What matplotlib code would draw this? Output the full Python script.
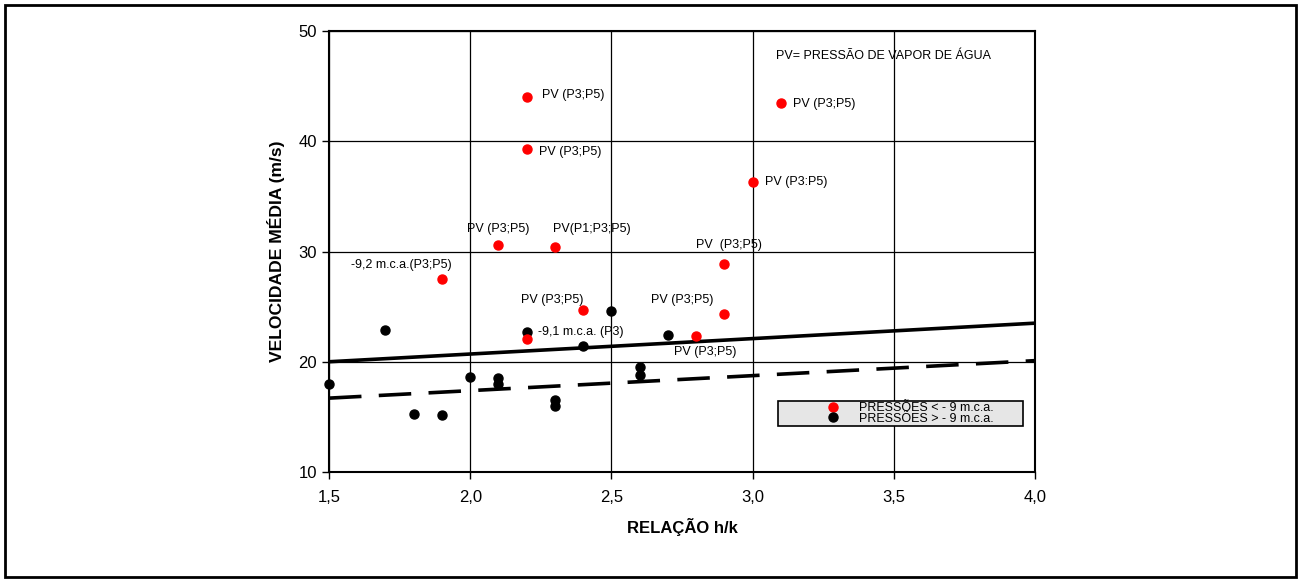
import matplotlib
matplotlib.use('Agg')
import matplotlib.pyplot as plt
from matplotlib.patches import Rectangle
from matplotlib.lines import Line2D
from matplotlib.ticker import FuncFormatter

plt.rcParams['font.family'] = ['Liberation Sans', 'DejaVu Sans']

# pontos com pressoes < -9 m.c.a. (vermelho)
red_x = [2.2, 2.2, 3.1, 3.0, 2.1, 2.3, 2.9, 1.9, 2.4, 2.9, 2.8, 2.2]
red_y = [44.0, 39.3, 43.5, 36.3, 30.6, 30.4, 28.9, 27.5, 24.7, 24.3, 22.3, 22.1]
red_labels = ['PV (P3;P5)', 'PV (P3;P5)', 'PV (P3;P5)', 'PV (P3:P5)',
              'PV (P3;P5)', 'PV(P1;P3;P5)', 'PV  (P3;P5)', '-9,2 m.c.a.(P3;P5)',
              'PV (P3;P5)', 'PV (P3;P5)', 'PV (P3;P5)', None]

# pontos com pressoes > -9 m.c.a. (preto)
black_x = [1.7, 2.2, 2.5, 2.4, 2.7, 2.6, 2.6, 1.5, 2.0, 2.1, 2.1, 1.8, 1.9, 2.3, 2.3]
black_y = [22.9, 22.7, 24.6, 21.4, 22.4, 19.5, 18.8, 18.0, 18.6, 18.5, 18.0,
           15.3, 15.2, 16.5, 16.0]
black_labels = [None, '-9,1 m.c.a. (P3)'] + [None] * 13

# retas limite
line_x = [1.5, 4.0]
solid_y = [20.0, 23.5]
dashed_y = [16.7, 20.1]

x_ticks = [1.5, 2.0, 2.5, 3.0, 3.5, 4.0]
y_ticks = [10, 20, 30, 40, 50]

# offsets dos rotulos (pixels) e alinhamento
red_offsets = [(15, 2, 'left'), (12, -3, 'left'), (12, -1, 'left'), (12, 0, 'left'),
               (0, 16, 'center'), (37, 18, 'center'), (5, 19, 'center'),
               (-41, 14, 'center'), (-31, 10, 'center'), (-42, 14, 'center'),
               (9, -16, 'center'), None]
black_offsets = [None, (11, 0, 'left')] + [None] * 13


def comma(v, pos):
    return f'{v:.1f}'.replace('.', ',')


fig = plt.figure(figsize=(13.01, 5.82), dpi=100)
ax = fig.add_axes([329 / 1301, 110 / 582, 706 / 1301, 441 / 582])

fig.patches.append(Rectangle((5 / 1301, 5 / 582), 1291 / 1301, 572 / 582,
                             transform=fig.transFigure, fill=False,
                             edgecolor='black', linewidth=2))

ax.plot(line_x, solid_y, color='black', lw=2.6, solid_capstyle='butt', zorder=2)
ax.plot(line_x, dashed_y, color='black', lw=2.6, linestyle=(0, (9, 4.8)), zorder=2)

ax.plot(black_x, black_y, 'o', color='black', ms=6.5, zorder=3, clip_on=False)
ax.plot(red_x, red_y, 'o', color='#ff0000', ms=6.5, zorder=4, clip_on=False)

for xs, ys, labs, offs in [(red_x, red_y, red_labels, red_offsets),
                           (black_x, black_y, black_labels, black_offsets)]:
    for x, y, lab, off in zip(xs, ys, labs, offs):
        if lab is None:
            continue
        dx, dy, ha = off
        ax.annotate(lab, (x, y), xytext=(dx, dy), textcoords='offset pixels',
                    ha=ha, va='center', fontsize=9)

ax.text((776 - 329) / 706, (472 - 56) / 441, 'PV= PRESSÃO DE VAPOR DE ÁGUA',
        fontsize=9, ha='left', va='center', transform=ax.transAxes)

ax.set_xlim(1.5, 4.0)
ax.set_ylim(10, 50)
ax.set_xticks(x_ticks)
ax.set_yticks(y_ticks)
ax.xaxis.set_major_formatter(FuncFormatter(comma))
ax.grid(True, color='black', lw=0.9)
ax.set_axisbelow(True)
ax.tick_params(direction='out', length=5, width=1, labelsize=12, colors='black')
ax.tick_params(axis='x', pad=8)
for s in ax.spines.values():
    s.set_linewidth(1.5)

ax.set_xlabel('RELAÇÃO h/k', fontsize=12, fontweight='bold', labelpad=9)
ax.set_ylabel('VELOCIDADE MÉDIA (m/s)', fontsize=12.6, fontweight='bold', labelpad=10)

handles = [Line2D([], [], marker='o', color='#ff0000', ls='none', ms=6.5),
           Line2D([], [], marker='o', color='black', ls='none', ms=6.5)]
leg = ax.legend(handles, ['PRESSÕES < - 9 m.c.a.', 'PRESSÕES > - 9 m.c.a.'],
                loc='lower left', mode='expand',
                bbox_to_anchor=((778 - 329) / 706, (472 - 426) / 441, 245 / 706, 26 / 441),
                fontsize=9, labelspacing=-0.1, borderpad=0.1, handlelength=8.6,
                handletextpad=-2.2, fancybox=False, framealpha=1, borderaxespad=0)
leg.get_frame().set_facecolor('#e6e6e6')
leg.get_frame().set_edgecolor('black')
leg.get_frame().set_linewidth(1.2)

fig.savefig('out.png', dpi=100)
